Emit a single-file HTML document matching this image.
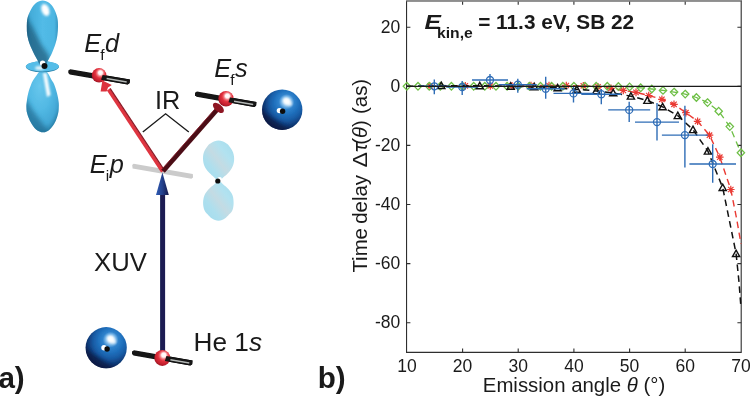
<!DOCTYPE html>
<html lang="en">
<head>
<meta charset="utf-8">
<title>Figure</title>
<style>
html,body{margin:0;padding:0;background:#fff;}
body{width:750px;height:397px;overflow:hidden;position:relative;}
svg{position:absolute;left:0;top:0;display:block;}
text{font-family:"Liberation Sans",Arial,Helvetica,sans-serif;fill:#1a1a1a;}
.tk{font-size:17.5px;}
.lb{font-size:25.3px;}
.it{font-style:italic;}
.sub{font-size:15.5px;font-style:normal;}
.ax{font-size:20.4px;}
.pn{font-size:29.6px;font-weight:bold;}
.tt{font-size:20.9px;font-weight:bold;}
</style>
</head>
<body>
<svg width="750" height="397" viewBox="0 0 750 397">
<defs>
<radialGradient id="gBlue" cx="0.6" cy="0.37" r="0.68" fx="0.61" fy="0.28">
<stop offset="0" stop-color="#ffffff"/>
<stop offset="0.08" stop-color="#e4f2fc"/>
<stop offset="0.18" stop-color="#7fbaea"/>
<stop offset="0.28" stop-color="#2f82cc"/>
<stop offset="0.45" stop-color="#1f6fbc"/>
<stop offset="0.62" stop-color="#185ba4"/>
<stop offset="0.78" stop-color="#103d7c"/>
<stop offset="0.92" stop-color="#0b2759"/>
<stop offset="1" stop-color="#081a42"/>
</radialGradient>
<radialGradient id="gRed" cx="0.57" cy="0.4" r="0.66" fx="0.6" fy="0.3">
<stop offset="0" stop-color="#ffffff"/>
<stop offset="0.2" stop-color="#fff4f4"/>
<stop offset="0.36" stop-color="#f1747b"/>
<stop offset="0.52" stop-color="#e2313d"/>
<stop offset="0.8" stop-color="#c21f2d"/>
<stop offset="1" stop-color="#8c1420"/>
</radialGradient>
<linearGradient id="gLobeU" x1="0" y1="0" x2="1" y2="0">
<stop offset="0" stop-color="#2a7ea6"/>
<stop offset="0.1" stop-color="#43abd8"/>
<stop offset="0.5" stop-color="#52bbe7"/>
<stop offset="0.88" stop-color="#4db6e2"/>
<stop offset="1" stop-color="#3796c2"/>
</linearGradient>
<radialGradient id="gLobeL" cx="0.42" cy="0.3" r="0.8" fx="0.42" fy="0.25">
<stop offset="0" stop-color="#68c7ed"/>
<stop offset="0.45" stop-color="#52b9e4"/>
<stop offset="0.75" stop-color="#43a8d6"/>
<stop offset="1" stop-color="#2a80a8"/>
</radialGradient>
<linearGradient id="gP" x1="0" y1="1" x2="1" y2="0">
<stop offset="0" stop-color="#a2dbed"/>
<stop offset="0.3" stop-color="#addfee"/>
<stop offset="0.5" stop-color="#c4dbe3"/>
<stop offset="0.7" stop-color="#b2e2f0"/>
<stop offset="1" stop-color="#a4dcec"/>
</linearGradient>
<linearGradient id="gHead" x1="0" y1="0" x2="1" y2="0">
<stop offset="0" stop-color="#2f5cb4"/>
<stop offset="0.5" stop-color="#24408c"/>
<stop offset="1" stop-color="#151a4a"/>
</linearGradient>
<filter id="soft" x="-10%" y="-10%" width="120%" height="120%"><feGaussianBlur stdDeviation="0.5"/></filter>
<filter id="soft2" x="-40%" y="-40%" width="180%" height="180%"><feGaussianBlur stdDeviation="2.2"/></filter>
<filter id="soft3" x="-30%" y="-30%" width="160%" height="160%"><feGaussianBlur stdDeviation="0.9"/></filter>
</defs>

<!-- ================= panel a ================= -->
<g filter="url(#soft)">
<!-- d orbital -->
<!-- lower lobe -->
<clipPath id="cLo"><path d="M39.5 71.5 C40.5 70.7 41.8 70.5 43.0 70.5 C44.2 70.5 45.5 70.7 46.5 71.5 C47.5 72.3 48.2 73.8 49.0 75.1 C49.8 76.4 50.5 78.1 51.3 79.6 C52.1 81.1 53.0 81.8 54.0 84.1 C55.0 86.4 56.2 90.3 57.0 93.2 C57.8 96.1 58.3 99.1 58.6 101.4 C58.9 103.7 58.9 105.0 58.8 107.0 C58.7 109.0 58.8 110.9 58.1 113.5 C57.5 116.1 56.3 119.9 54.9 122.6 C53.5 125.2 51.7 127.8 49.7 129.4 C47.8 131.0 45.5 132.3 43.2 132.3 C40.9 132.3 38.2 131.0 36.1 129.4 C34.0 127.8 32.4 125.2 30.9 122.6 C29.4 119.9 27.9 116.1 27.2 113.5 C26.4 110.9 26.5 109.0 26.4 107.0 C26.3 105.0 26.5 103.7 26.8 101.4 C27.1 99.1 27.4 96.1 28.2 93.2 C28.9 90.3 30.4 86.4 31.3 84.1 C32.2 81.8 32.7 81.1 33.6 79.6 C34.5 78.1 35.8 76.4 36.8 75.1 C37.8 73.8 38.5 72.3 39.5 71.5Z"/></clipPath>
<path d="M39.5 71.5 C40.5 70.7 41.8 70.5 43.0 70.5 C44.2 70.5 45.5 70.7 46.5 71.5 C47.5 72.3 48.2 73.8 49.0 75.1 C49.8 76.4 50.5 78.1 51.3 79.6 C52.1 81.1 53.0 81.8 54.0 84.1 C55.0 86.4 56.2 90.3 57.0 93.2 C57.8 96.1 58.3 99.1 58.6 101.4 C58.9 103.7 58.9 105.0 58.8 107.0 C58.7 109.0 58.8 110.9 58.1 113.5 C57.5 116.1 56.3 119.9 54.9 122.6 C53.5 125.2 51.7 127.8 49.7 129.4 C47.8 131.0 45.5 132.3 43.2 132.3 C40.9 132.3 38.2 131.0 36.1 129.4 C34.0 127.8 32.4 125.2 30.9 122.6 C29.4 119.9 27.9 116.1 27.2 113.5 C26.4 110.9 26.5 109.0 26.4 107.0 C26.3 105.0 26.5 103.7 26.8 101.4 C27.1 99.1 27.4 96.1 28.2 93.2 C28.9 90.3 30.4 86.4 31.3 84.1 C32.2 81.8 32.7 81.1 33.6 79.6 C34.5 78.1 35.8 76.4 36.8 75.1 C37.8 73.8 38.5 72.3 39.5 71.5Z" fill="url(#gLobeL)"/>
<g clip-path="url(#cLo)">
<path d="M24 96 L34 112 L46 128 L52 136 L30 136 L22 118Z" fill="#1c6488" opacity="0.6" filter="url(#soft2)"/>
<path d="M60 96 L59.5 112 L55 124 L48 133 L62 134Z" fill="#15506e" opacity="0.55" filter="url(#soft2)"/>
<path d="M42.8 73 L46.6 73 L50.6 95 L47 97Z" fill="#fff" opacity="0.95" filter="url(#soft3)"/>
</g>
<!-- torus -->
<ellipse cx="42.4" cy="66.8" rx="16.6" ry="5.5" fill="#2f86ad"/>
<ellipse cx="42.4" cy="66.4" rx="16.4" ry="5.1" fill="#55bde8"/>
<ellipse cx="39.5" cy="68" rx="4.5" ry="2" fill="#fff" opacity="0.8" filter="url(#soft3)"/>
<!-- upper lobe -->
<clipPath id="cUp"><path d="M36.0 3.0 C37.9 1.6 40.4 0.6 42.6 0.6 C44.8 0.6 47.5 1.6 49.4 3.0 C51.3 4.4 52.7 6.4 54.0 8.8 C55.3 11.2 56.6 14.7 57.3 17.6 C58.0 20.6 58.0 23.6 58.0 26.5 C58.0 29.4 57.8 32.4 57.4 35.3 C57.0 38.2 56.3 41.2 55.4 44.1 C54.5 47.0 53.2 50.2 52.0 52.9 C50.8 55.5 49.3 58.1 48.3 60.0 C47.3 61.9 46.9 63.3 46.0 64.2 C45.1 65.1 43.9 65.4 42.8 65.4 C41.7 65.4 40.5 65.1 39.6 64.2 C38.7 63.3 38.4 61.9 37.4 60.0 C36.4 58.1 34.9 55.5 33.6 52.9 C32.3 50.2 30.7 47.0 29.6 44.1 C28.6 41.2 27.8 38.2 27.3 35.3 C26.8 32.4 26.8 29.4 26.8 26.5 C26.9 23.6 26.8 20.6 27.6 17.6 C28.4 14.7 30.0 11.2 31.4 8.8 C32.8 6.4 34.1 4.4 36.0 3.0Z"/></clipPath>
<path d="M36.0 3.0 C37.9 1.6 40.4 0.6 42.6 0.6 C44.8 0.6 47.5 1.6 49.4 3.0 C51.3 4.4 52.7 6.4 54.0 8.8 C55.3 11.2 56.6 14.7 57.3 17.6 C58.0 20.6 58.0 23.6 58.0 26.5 C58.0 29.4 57.8 32.4 57.4 35.3 C57.0 38.2 56.3 41.2 55.4 44.1 C54.5 47.0 53.2 50.2 52.0 52.9 C50.8 55.5 49.3 58.1 48.3 60.0 C47.3 61.9 46.9 63.3 46.0 64.2 C45.1 65.1 43.9 65.4 42.8 65.4 C41.7 65.4 40.5 65.1 39.6 64.2 C38.7 63.3 38.4 61.9 37.4 60.0 C36.4 58.1 34.9 55.5 33.6 52.9 C32.3 50.2 30.7 47.0 29.6 44.1 C28.6 41.2 27.8 38.2 27.3 35.3 C26.8 32.4 26.8 29.4 26.8 26.5 C26.9 23.6 26.8 20.6 27.6 17.6 C28.4 14.7 30.0 11.2 31.4 8.8 C32.8 6.4 34.1 4.4 36.0 3.0Z" fill="url(#gLobeU)"/>
<g clip-path="url(#cUp)">
<path d="M24 12 L33 28 L41 44 L49 56 L50 68 L34 68 L24 40Z" fill="#124a66" opacity="0.6" filter="url(#soft2)"/>
<ellipse cx="45.4" cy="10" rx="3.8" ry="6.2" fill="#fff" transform="rotate(-20 45.4 10)" filter="url(#soft3)"/>
</g>
<!-- nucleus dot -->
<circle cx="42.6" cy="63.2" r="2.7" fill="#fff"/>
<circle cx="44.5" cy="66" r="3" fill="#111"/>

<!-- p orbital (faint) -->
<path d="M211.2 142.9 C212.2 142.2 213.4 141.6 214.6 141.2 C215.8 140.8 217.2 140.5 218.5 140.5 C219.8 140.5 221.2 140.8 222.4 141.2 C223.6 141.6 224.8 142.2 225.8 142.9 C226.8 143.6 227.2 143.6 228.4 145.1 C229.6 146.6 232.1 149.7 233.0 152.2 C233.9 154.7 234.3 157.6 234.1 160.2 C233.9 162.8 233.2 165.5 232.0 167.8 C230.8 170.1 228.8 172.4 227.2 174.1 C225.6 175.8 224.0 176.8 222.6 177.9 C221.2 179.1 219.9 181.0 218.6 181.0 C217.3 181.0 216.1 179.1 214.8 177.9 C213.5 176.8 212.2 175.8 210.6 174.1 C209.0 172.4 206.6 170.1 205.3 167.8 C204.1 165.5 203.3 162.8 203.1 160.2 C202.9 157.6 203.0 154.7 203.9 152.2 C204.8 149.7 207.2 146.6 208.4 145.1 C209.6 143.6 210.2 143.6 211.2 142.9Z" fill="url(#gP)"/>
<path d="M218.6 180.4 C220.0 180.4 221.3 182.7 223.0 184.2 C224.7 185.7 227.0 187.3 228.6 189.2 C230.2 191.1 231.8 193.2 232.6 195.5 C233.4 197.8 233.6 200.5 233.6 203.0 C233.6 205.5 233.2 208.5 232.3 210.6 C231.4 212.7 229.4 214.1 228.2 215.4 C227.0 216.7 226.2 217.4 225.2 218.2 C224.2 219.0 223.1 219.6 222.0 220.0 C220.9 220.4 219.7 220.8 218.5 220.8 C217.3 220.8 216.2 220.4 215.0 220.0 C213.8 219.6 212.7 219.0 211.6 218.2 C210.5 217.4 209.8 216.7 208.6 215.4 C207.4 214.1 205.5 212.7 204.6 210.6 C203.7 208.5 203.1 205.5 203.1 203.0 C203.1 200.5 203.5 197.8 204.4 195.5 C205.3 193.2 206.9 191.1 208.6 189.2 C210.3 187.3 212.7 185.7 214.4 184.2 C216.1 182.7 217.2 180.4 218.6 180.4Z" fill="url(#gP)"/>
<circle cx="219.6" cy="179.4" r="2.4" fill="#fff"/>
<circle cx="217.8" cy="181" r="2.6" fill="#111"/>

<!-- gray Ei bar -->
<path d="M132.2 165 L133.6 163.8 L192.8 174 L193 177.6 L191.4 178.8 L132.6 168.6Z" fill="#cbcbcb"/>

<!-- blue XUV arrow -->
<rect x="160.1" y="190" width="5" height="162" fill="#1b1f52"/>
<path d="M162.4 172.4 L168.8 195 L156 195Z" fill="url(#gHead)"/>

<!-- red arrows -->
<path d="M162.6 171.4 L108.4 89.6" stroke="#df343f" stroke-width="3.6" fill="none"/>
<path d="M164.3 170.2 L110.1 88.4" stroke="#8a1622" stroke-width="1.2" fill="none"/>
<path d="M163.1 171.3 L218.2 108.6" stroke="#4c0a14" stroke-width="4.5" fill="none"/>
<path d="M161.4 169.9 L216.5 107.2" stroke="#82202c" stroke-width="0.9" fill="none"/>

<!-- Ef d bar + sphere -->
<path d="M68.3 70.5 L70.3 69.3 L129.9 79.4 L129.6 83.1 L127.7 84.4 L69.8 74.5 L68.3 73.1 Z" fill="#121212"/>
<circle cx="99.1" cy="75.3" r="7.3" fill="url(#gRed)"/>
<path d="M102.4 80.6 L111.8 85 L108 87.6 L106.6 91.6 L100.6 91.4Z" fill="#dc323d"/>
<path d="M102.6 74.9 L129.9 79.4 L129.6 83.1 L127.7 84.4 L101.1 79.7 Z" fill="#121212"/>
<path d="M106.6 78.6 L126.7 81.9" stroke="#b4b8b6" stroke-width="1.5" fill="none"/>

<!-- Ef s bar + sphere -->
<path d="M195.0 92.7 L197.0 91.5 L256.4 102.1 L256.1 105.8 L254.2 107.1 L196.5 96.7 L195.0 95.3 Z" fill="#121212"/>
<ellipse cx="218.4" cy="107.9" rx="6.6" ry="3.6" fill="#8e1524" transform="rotate(41 218.4 107.9)"/>
<circle cx="226" cy="98.7" r="7.7" fill="url(#gRed)"/>
<path d="M230.0 97.5 L256.4 102.1 L256.1 105.8 L254.2 107.1 L228.5 102.3 Z" fill="#121212"/>
<path d="M234.0 101.2 L253.2 104.5" stroke="#b4b8b6" stroke-width="1.5" fill="none"/>

<!-- blue spheres -->
<circle cx="282.2" cy="109.7" r="20.2" fill="url(#gBlue)"/>
<clipPath id="cS1"><circle cx="282.2" cy="109.7" r="20.2"/></clipPath>
<g clip-path="url(#cS1)"><path d="M256.2 107.7 L298.2 135.7 L272.2 143.7 L248.2 129.7 Z" fill="#081a45" opacity="0.78" filter="url(#soft2)"/></g>
<ellipse cx="287.6" cy="102" rx="5.2" ry="2.8" fill="#fff" opacity="0.8" transform="rotate(38 287.6 102)" filter="url(#soft3)"/>
<circle cx="279.4" cy="110.6" r="2.7" fill="#fff"/>
<circle cx="282.6" cy="111.2" r="2.7" fill="#111"/>

<circle cx="106.2" cy="347.7" r="20.6" fill="url(#gBlue)"/>
<clipPath id="cS2"><circle cx="106.2" cy="347.7" r="20.6"/></clipPath>
<g clip-path="url(#cS2)"><path d="M80.2 345.7 L122.2 373.7 L96.2 381.7 L72.2 367.7 Z" fill="#081a45" opacity="0.78" filter="url(#soft2)"/></g>
<ellipse cx="111.6" cy="340" rx="5.2" ry="2.8" fill="#fff" opacity="0.8" transform="rotate(38 111.6 340)" filter="url(#soft3)"/>
<circle cx="104" cy="347.8" r="2.7" fill="#fff"/>
<circle cx="107.1" cy="349" r="2.7" fill="#111"/>

<!-- He 1s bar + sphere -->
<path d="M132.0 351.4 L134.0 350.2 L192.5 360.5 L192.2 364.2 L190.3 365.5 L133.5 355.4 L132.0 354.0 Z" fill="#121212"/>
<circle cx="162.3" cy="357.9" r="8" fill="url(#gRed)"/>
<path d="M166.4 356.1 L192.5 360.5 L192.2 364.2 L190.3 365.5 L164.9 360.9 Z" fill="#121212"/>
<path d="M170.4 359.7 L189.3 363.0" stroke="#b4b8b6" stroke-width="1.5" fill="none"/>
</g>

<!-- IR bracket -->
<path d="M142.8 132 L165.6 113.8 L188.8 132" fill="none" stroke="#1a1a1a" stroke-width="1.4"/>

<!-- labels panel a -->
<text x="84.3" y="52.4" class="lb it">E<tspan class="sub" dy="7.6" dx="-1">f</tspan><tspan dy="-7.6" dx="0.5">d</tspan></text>
<text x="214.3" y="77.4" class="lb it">E<tspan class="sub" dy="7.6" dx="-1">f</tspan><tspan dy="-7.6" dx="0.5">s</tspan></text>
<text x="89.8" y="173" class="lb it">E<tspan class="sub" dy="7.6" dx="-1">i</tspan><tspan dy="-7.6" dx="0.5">p</tspan></text>
<text x="155" y="109" class="lb">IR</text>
<text x="94" y="271.3" class="lb" style="font-size:25.7px">XUV</text>
<text x="193.6" y="350.8" class="lb" style="font-size:26.2px">He 1<tspan class="it">s</tspan></text>
<text x="-1.6" y="387.6" class="pn">a)</text>
<text x="317.8" y="387.6" class="pn">b)</text>

<!-- ================= panel b ================= -->
<g stroke="#2e2e2e" stroke-width="1.1" fill="none" stroke-linejoin="miter">
<path d="M406.55 0V352.35H741.2V0"/>
<path d="M462.6 352.2v-3.8M462.6 1.5v3.2"/>
<path d="M518.2 352.2v-3.8M518.2 1.5v3.2"/>
<path d="M573.9 352.2v-3.8M573.9 1.5v3.2"/>
<path d="M629.6 352.2v-3.8M629.6 1.5v3.2"/>
<path d="M685.2 352.2v-3.8M685.2 1.5v3.2"/>
<path d="M406.6 27.2h3.8M741.2 27.2h-3.8"/>
<path d="M406.6 86.3h3.8M741.2 86.3h-3.8"/>
<path d="M406.6 145.4h3.8M741.2 145.4h-3.8"/>
<path d="M406.6 204.5h3.8M741.2 204.5h-3.8"/>
<path d="M406.6 263.6h3.8M741.2 263.6h-3.8"/>
<path d="M406.6 322.7h3.8M741.2 322.7h-3.8"/>
</g>
<rect x="406" y="0" width="335.8" height="1.3" fill="#8e8e8e"/><rect x="406" y="1.3" width="335.8" height="0.5" fill="#4a4a4a"/>
<g fill="none" stroke-linecap="butt">
<polyline points="430.0,86.2 465.3,85.8 490.3,86.0 512.0,85.8 531.0,85.6 549.0,85.5 566.3,85.5 583.3,85.8 598.0,86.8 611.0,88.3 623.3,90.4 636.0,92.4 648.7,95.5 661.9,99.3 674.0,104.3 685.9,112.7 697.6,121.3 709.5,135.2 719.8,157.2 730.8,189.5 736.5,218.0 741.0,244.0" stroke="#ea3a33" stroke-width="1.4" stroke-dasharray="6.5 4.5"/>
<path d="M426.2 86.2h7.6M430.0 82.4v7.6M427.3 83.5l5.4 5.4M432.7 83.5l-5.4 5.4" stroke="#ea3a33" stroke-width="1.2"/>
<path d="M461.5 85.8h7.6M465.3 82.0v7.6M462.6 83.1l5.4 5.4M468.0 83.1l-5.4 5.4" stroke="#ea3a33" stroke-width="1.2"/>
<path d="M486.5 86.0h7.6M490.3 82.2v7.6M487.6 83.3l5.4 5.4M493.0 83.3l-5.4 5.4" stroke="#ea3a33" stroke-width="1.2"/>
<path d="M508.2 85.8h7.6M512.0 82.0v7.6M509.3 83.1l5.4 5.4M514.7 83.1l-5.4 5.4" stroke="#ea3a33" stroke-width="1.2"/>
<path d="M527.2 85.6h7.6M531.0 81.8v7.6M528.3 82.9l5.4 5.4M533.7 82.9l-5.4 5.4" stroke="#ea3a33" stroke-width="1.2"/>
<path d="M545.2 85.5h7.6M549.0 81.7v7.6M546.3 82.8l5.4 5.4M551.7 82.8l-5.4 5.4" stroke="#ea3a33" stroke-width="1.2"/>
<path d="M562.5 85.5h7.6M566.3 81.7v7.6M563.6 82.8l5.4 5.4M569.0 82.8l-5.4 5.4" stroke="#ea3a33" stroke-width="1.2"/>
<path d="M579.5 85.8h7.6M583.3 82.0v7.6M580.6 83.1l5.4 5.4M586.0 83.1l-5.4 5.4" stroke="#ea3a33" stroke-width="1.2"/>
<path d="M594.2 86.8h7.6M598.0 83.0v7.6M595.3 84.1l5.4 5.4M600.7 84.1l-5.4 5.4" stroke="#ea3a33" stroke-width="1.2"/>
<path d="M607.2 88.3h7.6M611.0 84.5v7.6M608.3 85.6l5.4 5.4M613.7 85.6l-5.4 5.4" stroke="#ea3a33" stroke-width="1.2"/>
<path d="M619.5 90.4h7.6M623.3 86.6v7.6M620.6 87.7l5.4 5.4M626.0 87.7l-5.4 5.4" stroke="#ea3a33" stroke-width="1.2"/>
<path d="M632.2 92.4h7.6M636.0 88.6v7.6M633.3 89.7l5.4 5.4M638.7 89.7l-5.4 5.4" stroke="#ea3a33" stroke-width="1.2"/>
<path d="M644.9 95.5h7.6M648.7 91.7v7.6M646.0 92.8l5.4 5.4M651.4 92.8l-5.4 5.4" stroke="#ea3a33" stroke-width="1.2"/>
<path d="M658.1 99.3h7.6M661.9 95.5v7.6M659.2 96.6l5.4 5.4M664.6 96.6l-5.4 5.4" stroke="#ea3a33" stroke-width="1.2"/>
<path d="M670.2 104.3h7.6M674.0 100.5v7.6M671.3 101.6l5.4 5.4M676.7 101.6l-5.4 5.4" stroke="#ea3a33" stroke-width="1.2"/>
<path d="M682.1 112.7h7.6M685.9 108.9v7.6M683.2 110.0l5.4 5.4M688.6 110.0l-5.4 5.4" stroke="#ea3a33" stroke-width="1.2"/>
<path d="M693.8 121.3h7.6M697.6 117.5v7.6M694.9 118.6l5.4 5.4M700.3 118.6l-5.4 5.4" stroke="#ea3a33" stroke-width="1.2"/>
<path d="M705.7 135.2h7.6M709.5 131.4v7.6M706.8 132.5l5.4 5.4M712.2 132.5l-5.4 5.4" stroke="#ea3a33" stroke-width="1.2"/>
<path d="M716.0 157.2h7.6M719.8 153.4v7.6M717.1 154.5l5.4 5.4M722.5 154.5l-5.4 5.4" stroke="#ea3a33" stroke-width="1.2"/>
<path d="M727.0 189.5h7.6M730.8 185.7v7.6M728.1 186.8l5.4 5.4M733.5 186.8l-5.4 5.4" stroke="#ea3a33" stroke-width="1.2"/>
<polyline points="406.9,86.3 418.0,86.3 429.2,86.3 440.3,86.3 451.4,86.3 462.6,86.3 473.7,86.3 484.8,86.3 496.0,86.3 507.1,86.3 518.2,86.3 529.4,86.3 540.5,86.3 551.6,86.3 562.8,86.3 573.9,86.3 585.0,86.3 596.2,86.3 607.3,86.3 618.4,86.5 629.6,86.9 640.7,87.8 651.8,89.0 663.0,90.4 674.1,92.1 685.2,94.1 696.4,97.5 707.5,102.6 718.7,111.2 729.8,126.6 740.9,152.8" stroke="#6dbf45" stroke-width="1.3" stroke-dasharray="6.5 4.5"/>
<path d="M406.9 82.5l3.7 3.8l-3.7 3.8l-3.7 -3.8z" stroke="#6dbf45" stroke-width="1.25"/>
<path d="M418.0 82.5l3.7 3.8l-3.7 3.8l-3.7 -3.8z" stroke="#6dbf45" stroke-width="1.25"/>
<path d="M429.2 82.5l3.7 3.8l-3.7 3.8l-3.7 -3.8z" stroke="#6dbf45" stroke-width="1.25"/>
<path d="M440.3 82.5l3.7 3.8l-3.7 3.8l-3.7 -3.8z" stroke="#6dbf45" stroke-width="1.25"/>
<path d="M451.4 82.5l3.7 3.8l-3.7 3.8l-3.7 -3.8z" stroke="#6dbf45" stroke-width="1.25"/>
<path d="M462.6 82.5l3.7 3.8l-3.7 3.8l-3.7 -3.8z" stroke="#6dbf45" stroke-width="1.25"/>
<path d="M473.7 82.5l3.7 3.8l-3.7 3.8l-3.7 -3.8z" stroke="#6dbf45" stroke-width="1.25"/>
<path d="M484.8 82.5l3.7 3.8l-3.7 3.8l-3.7 -3.8z" stroke="#6dbf45" stroke-width="1.25"/>
<path d="M496.0 82.5l3.7 3.8l-3.7 3.8l-3.7 -3.8z" stroke="#6dbf45" stroke-width="1.25"/>
<path d="M507.1 82.5l3.7 3.8l-3.7 3.8l-3.7 -3.8z" stroke="#6dbf45" stroke-width="1.25"/>
<path d="M518.2 82.5l3.7 3.8l-3.7 3.8l-3.7 -3.8z" stroke="#6dbf45" stroke-width="1.25"/>
<path d="M529.4 82.5l3.7 3.8l-3.7 3.8l-3.7 -3.8z" stroke="#6dbf45" stroke-width="1.25"/>
<path d="M540.5 82.5l3.7 3.8l-3.7 3.8l-3.7 -3.8z" stroke="#6dbf45" stroke-width="1.25"/>
<path d="M551.6 82.5l3.7 3.8l-3.7 3.8l-3.7 -3.8z" stroke="#6dbf45" stroke-width="1.25"/>
<path d="M562.8 82.5l3.7 3.8l-3.7 3.8l-3.7 -3.8z" stroke="#6dbf45" stroke-width="1.25"/>
<path d="M573.9 82.5l3.7 3.8l-3.7 3.8l-3.7 -3.8z" stroke="#6dbf45" stroke-width="1.25"/>
<path d="M585.0 82.5l3.7 3.8l-3.7 3.8l-3.7 -3.8z" stroke="#6dbf45" stroke-width="1.25"/>
<path d="M596.2 82.5l3.7 3.8l-3.7 3.8l-3.7 -3.8z" stroke="#6dbf45" stroke-width="1.25"/>
<path d="M607.3 82.5l3.7 3.8l-3.7 3.8l-3.7 -3.8z" stroke="#6dbf45" stroke-width="1.25"/>
<path d="M618.4 82.7l3.7 3.8l-3.7 3.8l-3.7 -3.8z" stroke="#6dbf45" stroke-width="1.25"/>
<path d="M629.6 83.1l3.7 3.8l-3.7 3.8l-3.7 -3.8z" stroke="#6dbf45" stroke-width="1.25"/>
<path d="M640.7 84.0l3.7 3.8l-3.7 3.8l-3.7 -3.8z" stroke="#6dbf45" stroke-width="1.25"/>
<path d="M651.8 85.2l3.7 3.8l-3.7 3.8l-3.7 -3.8z" stroke="#6dbf45" stroke-width="1.25"/>
<path d="M663.0 86.6l3.7 3.8l-3.7 3.8l-3.7 -3.8z" stroke="#6dbf45" stroke-width="1.25"/>
<path d="M674.1 88.3l3.7 3.8l-3.7 3.8l-3.7 -3.8z" stroke="#6dbf45" stroke-width="1.25"/>
<path d="M685.2 90.3l3.7 3.8l-3.7 3.8l-3.7 -3.8z" stroke="#6dbf45" stroke-width="1.25"/>
<path d="M696.4 93.7l3.7 3.8l-3.7 3.8l-3.7 -3.8z" stroke="#6dbf45" stroke-width="1.25"/>
<path d="M707.5 98.8l3.7 3.8l-3.7 3.8l-3.7 -3.8z" stroke="#6dbf45" stroke-width="1.25"/>
<path d="M718.7 107.4l3.7 3.8l-3.7 3.8l-3.7 -3.8z" stroke="#6dbf45" stroke-width="1.25"/>
<path d="M729.8 122.8l3.7 3.8l-3.7 3.8l-3.7 -3.8z" stroke="#6dbf45" stroke-width="1.25"/>
<path d="M740.9 149.0l3.7 3.8l-3.7 3.8l-3.7 -3.8z" stroke="#6dbf45" stroke-width="1.25"/>
<polyline points="407.0,86.3 441.3,85.6 479.8,85.8 510.7,86.3 534.3,86.8 557.6,87.9 576.8,89.4 596.2,90.9 613.2,92.9 630.9,96.2 647.4,100.5 662.6,106.9 677.8,115.7 693.0,129.7 707.9,151.2 722.7,187.6 736.1,253.6 739.0,282.0 741.0,308.0" stroke="#111" stroke-width="1.5" stroke-dasharray="6.5 4.5"/>
<path d="M441.3 82.1l3.6 6.4h-7.2z" stroke="#111" stroke-width="1.4"/>
<path d="M479.8 82.3l3.6 6.4h-7.2z" stroke="#111" stroke-width="1.4"/>
<path d="M510.7 82.8l3.6 6.4h-7.2z" stroke="#111" stroke-width="1.4"/>
<path d="M534.3 83.3l3.6 6.4h-7.2z" stroke="#111" stroke-width="1.4"/>
<path d="M557.6 84.4l3.6 6.4h-7.2z" stroke="#111" stroke-width="1.4"/>
<path d="M576.8 85.9l3.6 6.4h-7.2z" stroke="#111" stroke-width="1.4"/>
<path d="M596.2 87.4l3.6 6.4h-7.2z" stroke="#111" stroke-width="1.4"/>
<path d="M613.2 89.4l3.6 6.4h-7.2z" stroke="#111" stroke-width="1.4"/>
<path d="M630.9 92.7l3.6 6.4h-7.2z" stroke="#111" stroke-width="1.4"/>
<path d="M647.4 97.0l3.6 6.4h-7.2z" stroke="#111" stroke-width="1.4"/>
<path d="M662.6 103.4l3.6 6.4h-7.2z" stroke="#111" stroke-width="1.4"/>
<path d="M677.8 112.2l3.6 6.4h-7.2z" stroke="#111" stroke-width="1.4"/>
<path d="M693.0 126.2l3.6 6.4h-7.2z" stroke="#111" stroke-width="1.4"/>
<path d="M707.9 147.7l3.6 6.4h-7.2z" stroke="#111" stroke-width="1.4"/>
<path d="M722.7 184.1l3.6 6.4h-7.2z" stroke="#111" stroke-width="1.4"/>
<path d="M736.1 250.1l3.6 6.4h-7.2z" stroke="#111" stroke-width="1.4"/>
<path d="M418.3 86.3H450.3M434.3 79.4V94.3" stroke="#2f6db6" stroke-width="1.4"/>
<circle cx="434.3" cy="86.3" r="3.5" stroke="#2f6db6" stroke-width="1.3"/>
<path d="M446.2 87.0H478.2M462.2 81.0V95.0" stroke="#2f6db6" stroke-width="1.4"/>
<circle cx="462.2" cy="87.0" r="3.5" stroke="#2f6db6" stroke-width="1.3"/>
<path d="M472.0 80.0H508.0M490.0 74.0V86.0" stroke="#2f6db6" stroke-width="1.4"/>
<circle cx="490.0" cy="80.0" r="3.5" stroke="#2f6db6" stroke-width="1.3"/>
<path d="M498.8 84.7H536.8M517.8 78.7V92.7" stroke="#2f6db6" stroke-width="1.4"/>
<circle cx="517.8" cy="84.7" r="3.5" stroke="#2f6db6" stroke-width="1.3"/>
<path d="M526.7 88.7H564.7M545.7 76.7V98.7" stroke="#2f6db6" stroke-width="1.4"/>
<circle cx="545.7" cy="88.7" r="3.5" stroke="#2f6db6" stroke-width="1.3"/>
<path d="M553.5 93.4H593.5M573.5 86.6V102.6" stroke="#2f6db6" stroke-width="1.4"/>
<circle cx="573.5" cy="93.4" r="3.5" stroke="#2f6db6" stroke-width="1.3"/>
<path d="M581.3 94.2H621.3M601.3 89.0V104.3" stroke="#2f6db6" stroke-width="1.4"/>
<circle cx="601.3" cy="94.2" r="3.5" stroke="#2f6db6" stroke-width="1.3"/>
<path d="M608.2 109.9H650.2M629.2 101.8V122.0" stroke="#2f6db6" stroke-width="1.4"/>
<circle cx="629.2" cy="109.9" r="3.5" stroke="#2f6db6" stroke-width="1.3"/>
<path d="M635.0 122.1H679.0M657.0 103.0V140.6" stroke="#2f6db6" stroke-width="1.4"/>
<circle cx="657.0" cy="122.1" r="3.5" stroke="#2f6db6" stroke-width="1.3"/>
<path d="M661.9 135.1H707.9M684.9 105.8V167.6" stroke="#2f6db6" stroke-width="1.4"/>
<circle cx="684.9" cy="135.1" r="3.5" stroke="#2f6db6" stroke-width="1.3"/>
<path d="M689.4 164.0H736.0M712.7 144.2V182.7" stroke="#2f6db6" stroke-width="1.4"/>
<circle cx="712.7" cy="164.0" r="3.5" stroke="#2f6db6" stroke-width="1.3"/>
<line x1="407" y1="86.4" x2="741" y2="86.4" stroke="#1a1a1a" stroke-width="1.1"/>
</g>
<text x="400.3" y="32.5" text-anchor="end" class="tk">20</text>
<text x="400.3" y="91.6" text-anchor="end" class="tk">0</text>
<text x="400.3" y="150.7" text-anchor="end" class="tk">-20</text>
<text x="400.3" y="209.8" text-anchor="end" class="tk">-40</text>
<text x="400.3" y="268.9" text-anchor="end" class="tk">-60</text>
<text x="400.3" y="328.0" text-anchor="end" class="tk">-80</text>
<text x="406.9" y="371.9" text-anchor="middle" class="tk">10</text>
<text x="462.6" y="371.9" text-anchor="middle" class="tk">20</text>
<text x="518.2" y="371.9" text-anchor="middle" class="tk">30</text>
<text x="573.9" y="371.9" text-anchor="middle" class="tk">40</text>
<text x="629.6" y="371.9" text-anchor="middle" class="tk">50</text>
<text x="685.2" y="371.9" text-anchor="middle" class="tk">60</text>
<text x="740.9" y="371.9" text-anchor="middle" class="tk">70</text>
<text x="424.6" y="28.7" class="tt" font-style="italic" textLength="16.4" lengthAdjust="spacingAndGlyphs">E</text>
<text x="437" y="38.4" class="tt" style="font-size:15.2px" textLength="35.8" lengthAdjust="spacingAndGlyphs">kin,e</text>
<text x="478.2" y="28.7" class="tt" textLength="156" lengthAdjust="spacingAndGlyphs">= 11.3 eV, SB 22</text>
<text x="574" y="392" text-anchor="middle" class="ax">Emission angle <tspan class="it">θ</tspan> (°)</text>
<g transform="translate(367.2 0) rotate(-90)" class="ax">
<text x="-272.6">Time</text>
<text x="-223.8">delay</text>
<text x="-167.6" textLength="15.4" lengthAdjust="spacingAndGlyphs">Δ</text>
<text x="-153" style="font-family:'DejaVu Sans','Liberation Sans',sans-serif;font-style:italic;font-size:18.5px">τ</text>
<text x="-144.8">(<tspan class="it">θ</tspan>)</text>
<text x="-114">(as)</text>
</g>
</svg>
</body>
</html>
